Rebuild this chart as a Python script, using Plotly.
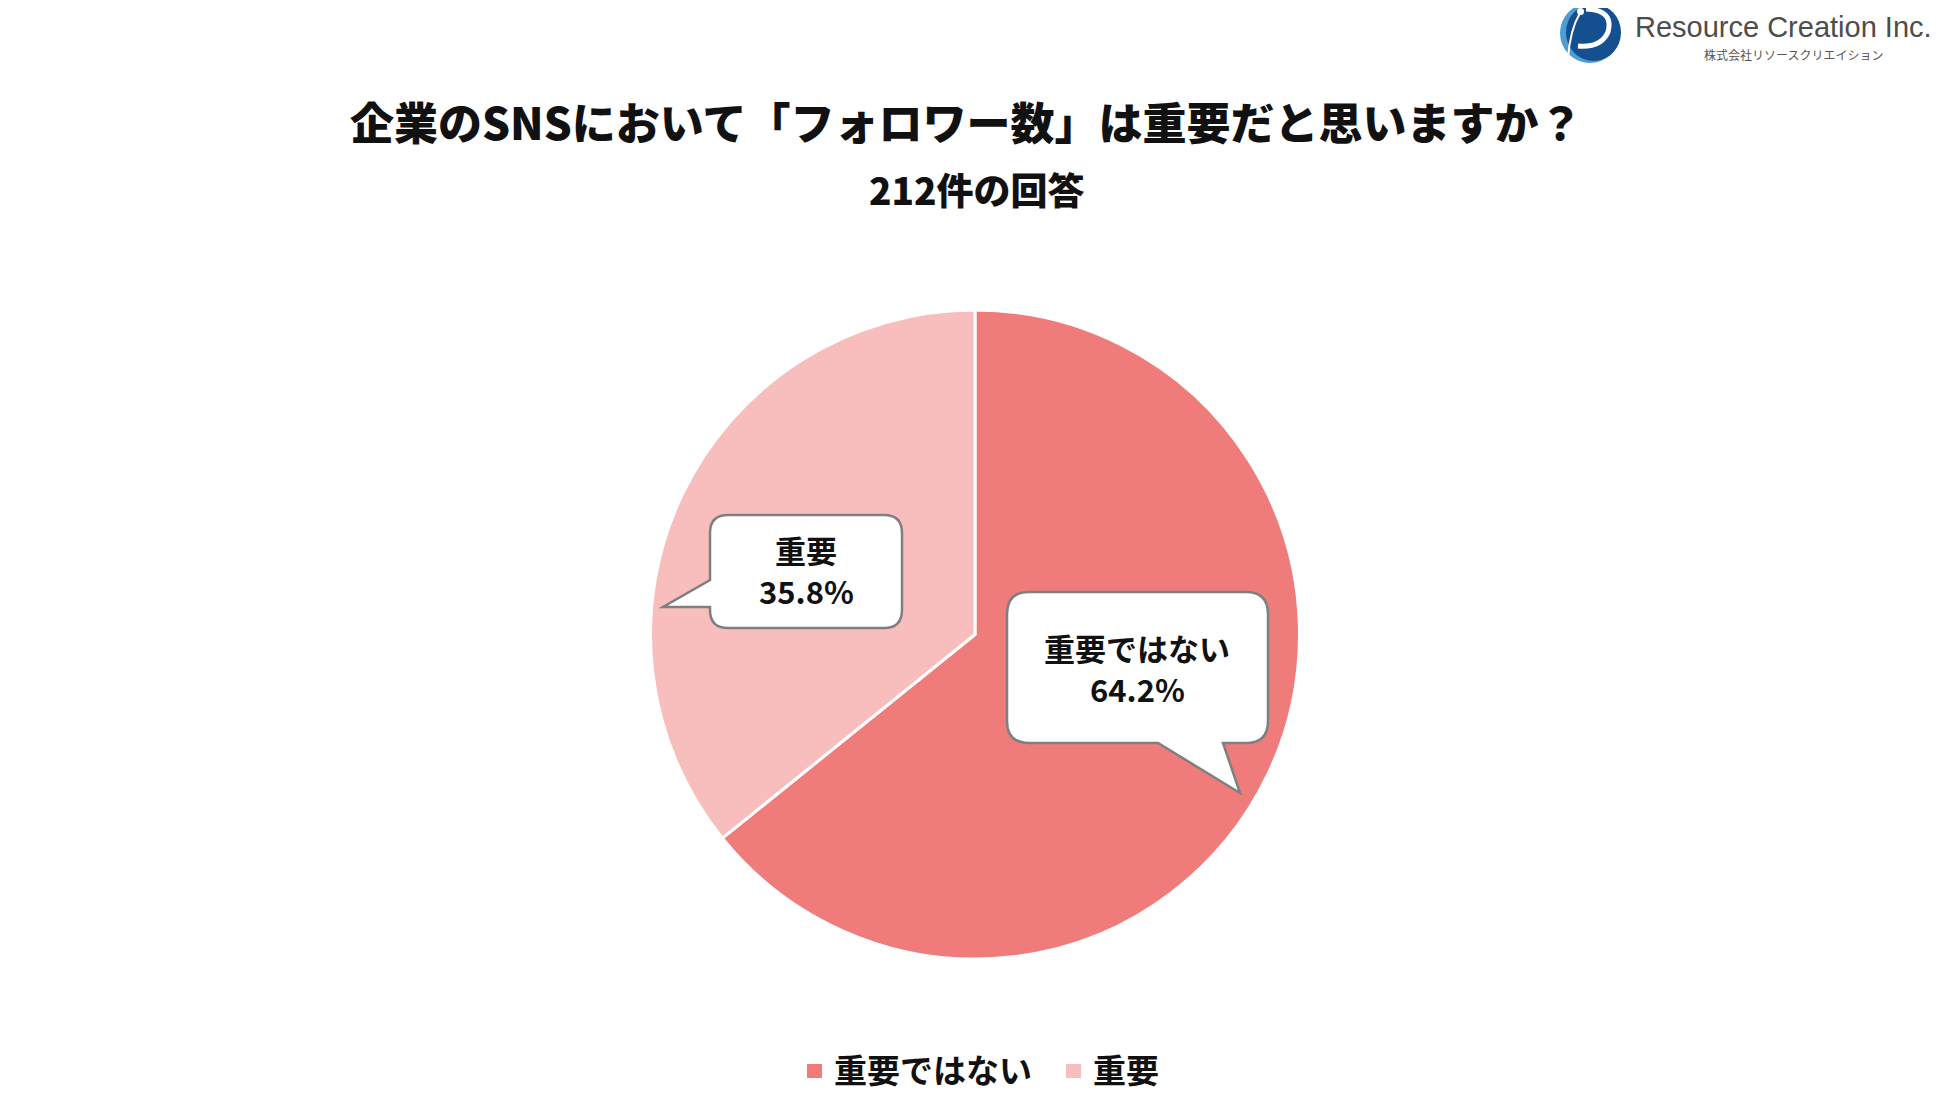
import plotly.graph_objects as go

# --- data ---
labels = ["重要ではない", "重要"]
values = [64.2, 35.8]
colors = ["#F07B7B", "#F8BDBD"]

title_text = "企業のSNSにおいて「フォロワー数」は重要だと思いますか？"
subtitle_text = "212件の回答"

# page is 1950x1117, the body has an 8px margin, so the figure is 16px smaller
PAGE_MARGIN = 8
W, H = 1950 - 2 * PAGE_MARGIN, 1117 - 2 * PAGE_MARGIN
FONT = "Noto Sans CJK JP"


def px(x):
    # page pixel -> paper fraction
    return (x - PAGE_MARGIN) / W


def py(y):
    return 1 - (y - PAGE_MARGIN) / H


def to_path(pts, close=True):
    out = []
    for cmd, coords in pts:
        s = " ".join(f"{px(x):.5f},{py(y):.5f}" for x, y in coords)
        out.append(f"{cmd}{s}")
    return " ".join(out) + (" Z" if close else "")


def rounded_box(x0, y0, x1, y1, r, side, ppts):
    # speech bubble: rounded box with a pointer on the left or bottom edge
    p = [("M", [(x0 + r, y0)]), ("L", [(x1 - r, y0)]),
         ("Q", [(x1, y0), (x1, y0 + r)]), ("L", [(x1, y1 - r)]),
         ("Q", [(x1, y1), (x1 - r, y1)])]
    if side == "bottom":
        p += [("L", [pt]) for pt in ppts]
    p += [("L", [(x0 + r, y1)]), ("Q", [(x0, y1), (x0, y1 - r)])]
    if side == "left":
        p += [("L", [pt]) for pt in ppts]
    p += [("L", [(x0, y0 + r)]), ("Q", [(x0, y0), (x0 + r, y0)])]
    return to_path(p)


fig = go.Figure()

fig.add_trace(
    go.Pie(
        labels=labels,
        values=values,
        sort=False,
        direction="clockwise",
        rotation=0,
        textinfo="none",
        marker=dict(colors=colors, line=dict(color="white", width=3)),
        domain=dict(x=[px(650), px(1300)], y=[py(959), py(310)]),
        hovertemplate="%{label}: %{value}%<extra></extra>",
        showlegend=False,
    )
)

# speech bubbles
bubble_small = rounded_box(710, 515, 902, 628, 18, "left",
                           [(710, 607), (663, 607), (710, 580)])
bubble_big = rounded_box(1007, 592, 1268, 743, 22, "bottom",
                         [(1223, 743), (1240, 793), (1158, 743)])
for path in (bubble_big, bubble_small):
    fig.add_shape(type="path", path=path, xref="paper", yref="paper",
                  fillcolor="white", line=dict(color="#7F7F7F", width=2.5))

# callout texts: label on one line, percentage under it
callout_pos = [(1137, 648), (806, 550)]
for lab, val, (cx, cy) in zip(labels, values, callout_pos):
    for txt, yy in ((lab, cy - 1), (f"{val:.1f}%", cy + 40)):
        fig.add_annotation(
            x=px(cx), y=py(yy), xref="paper", yref="paper",
            xanchor="center", yanchor="middle",
            text=txt, showarrow=False, borderpad=0,
            font=dict(family=FONT, size=31, color="#111111", weight=700),
        )

# titles
fig.add_annotation(
    x=px(966), y=py(121), xref="paper", yref="paper",
    xanchor="center", yanchor="middle", text=title_text, showarrow=False,
    font=dict(family=FONT, size=44, color="#111111", weight=900),
)
fig.add_annotation(
    x=px(977), y=py(189), xref="paper", yref="paper",
    xanchor="center", yanchor="middle", text=subtitle_text, showarrow=False,
    font=dict(family=FONT, size=37, color="#111111", weight=900),
)

# legend drawn by hand (square markers like the reference)
legend_x = [807, 1066]
for lab, col, lx in zip(labels, colors, legend_x):
    fig.add_shape(type="rect", xref="paper", yref="paper",
                  x0=px(lx), x1=px(lx + 15), y0=py(1078), y1=py(1064),
                  fillcolor=col, line=dict(width=0))
    fig.add_annotation(
        x=px(lx + 25), y=py(1069), xref="paper", yref="paper",
        xanchor="left", yanchor="middle", text=lab, showarrow=False,
        font=dict(family=FONT, size=33, color="#111111", weight=700),
    )

# logo: blue disc with a white swoosh
fig.add_shape(type="circle", xref="paper", yref="paper",
              x0=px(1560), x1=px(1620), y0=py(63), y1=py(3),
              fillcolor="#4E9ED6", line=dict(width=0))
fig.add_shape(type="circle", xref="paper", yref="paper",
              x0=px(1566), x1=px(1621), y0=py(61), y1=py(4),
              fillcolor="#14508F", line=dict(width=0))
fig.add_shape(type="path", xref="paper", yref="paper",
              path=to_path([("M", [(1586, 9)]), ("Q", [(1614, 10), (1608, 32)]),
                            ("Q", [(1601, 48), (1578, 46)])], close=False),
              line=dict(color="white", width=5))
fig.add_shape(type="path", xref="paper", yref="paper",
              path=to_path([("M", [(1568, 58)]), ("Q", [(1570, 30), (1580, 13)])],
                           close=False),
              line=dict(color="white", width=2))
fig.add_shape(type="circle", xref="paper", yref="paper",
              x0=px(1577), x1=px(1584), y0=py(15), y1=py(8),
              fillcolor="white", line=dict(width=0))
fig.add_annotation(
    x=px(1633), y=py(27), xref="paper", yref="paper",
    xanchor="left", yanchor="middle",
    text="Resource Creation Inc.", showarrow=False,
    font=dict(family="Liberation Sans", size=29, color="#4D4D4D"),
)
fig.add_annotation(
    x=px(1793), y=py(55), xref="paper", yref="paper",
    xanchor="center", yanchor="middle",
    text="株式会社リソースクリエイション", showarrow=False,
    font=dict(family=FONT, size=12, color="#555555"),
)

fig.update_layout(
    width=W,
    height=H,
    margin=dict(l=0, r=0, t=0, b=0),
    paper_bgcolor="white",
    plot_bgcolor="white",
    showlegend=False,
)

fig.write_html("out.html")
